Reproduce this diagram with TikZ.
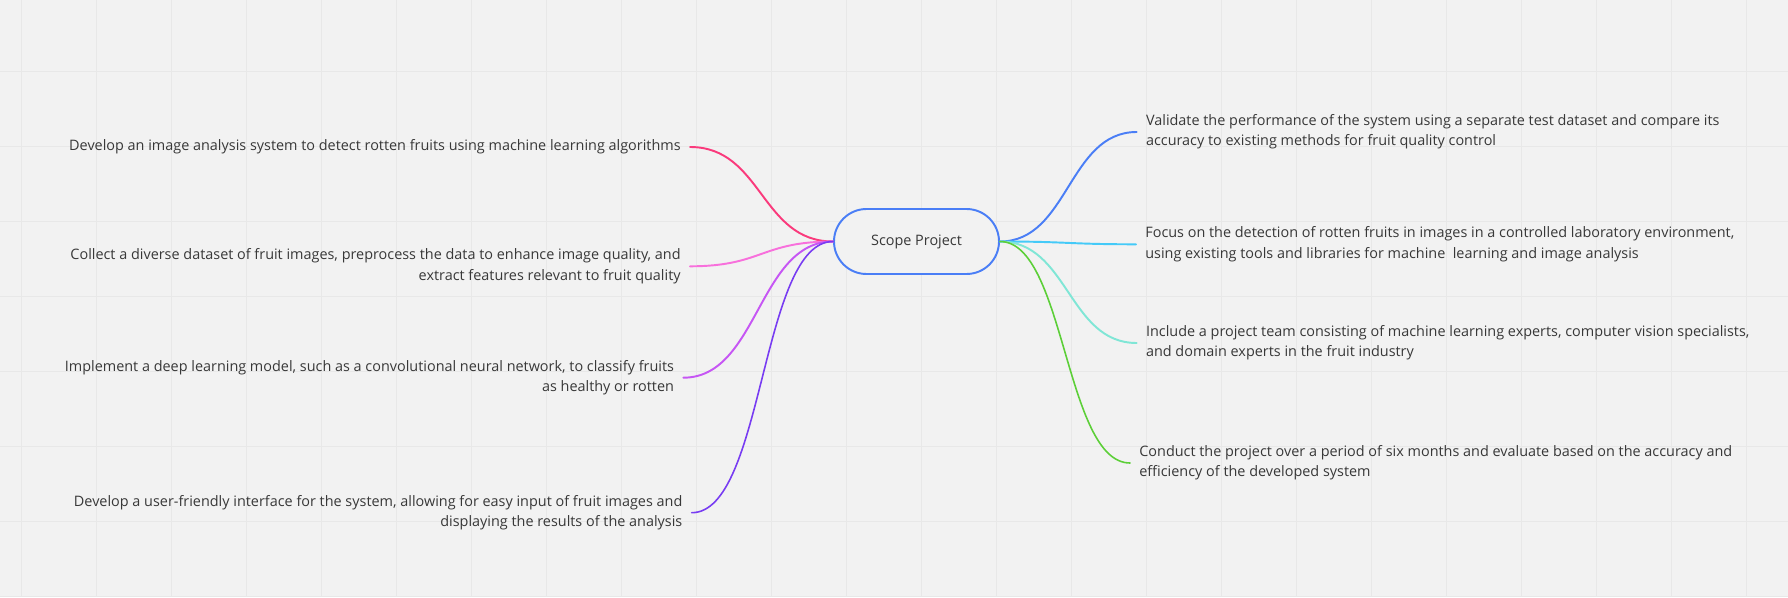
\documentclass[tikz,border=0pt]{standalone}
\usepackage{fontspec}
\setmainfont{Open Sans}
\usepackage{tikz}
\usetikzlibrary{positioning}
\definecolor{bgcol}{HTML}{F2F2F2}
\definecolor{gridcol}{HTML}{E8E8E8}
\definecolor{txtcol}{HTML}{383838}
\definecolor{nodeblue}{HTML}{4A7EF6}
\definecolor{cpink}{HTML}{FA3A7C}
\definecolor{cmagenta}{HTML}{F870DC}
\definecolor{cpurple}{HTML}{C656F4}
\definecolor{cviolet}{HTML}{783CF2}
\definecolor{cblue}{HTML}{4A7EF6}
\definecolor{ccyan}{HTML}{44CAF8}
\definecolor{cteal}{HTML}{80E6D6}
\definecolor{cgreen}{HTML}{5CCF38}
\tikzset{
  branch/.style={line width=1.1pt, line cap=round},
  hubbox/.style={draw=nodeblue, line width=1.1pt, rounded corners=0.65cm, fill=bgcol, minimum width=3.3cm, minimum height=1.3cm, align=center, text=txtcol},
  leftnote/.style={anchor=east, align=right, inner xsep=0.18cm, inner ysep=0pt, text=txtcol, yshift=-0.04cm},
  rightnote/.style={anchor=west, align=left, inner xsep=0.18cm, inner ysep=0pt, text=txtcol, yshift=-0.04cm}
}

\begin{document}
\begin{tikzpicture}[every node/.style={font=\fontsize{8.2}{11.5}\selectfont}]
  % canvas and grid
  \fill[bgcol] (0,0) rectangle (35.76,11.94);
  \useasboundingbox (0,0) rectangle (35.76,11.94);
  \foreach \gx in {0,...,23} \draw[gridcol, line width=0.5pt] (0.43+1.5*\gx,0) -- (0.43+1.5*\gx,11.94);
  \foreach \gy in {0,...,7} \draw[gridcol, line width=0.5pt] (0,10.506-1.5*\gy) -- (35.76,10.506-1.5*\gy);

  \node[hubbox] (scope) at (18.33,7.11) {\raisebox{-0.5pt}{Scope Project}};

  % left branches
  \node[leftnote] (dev) at (13.80,9.04) {Develop an image analysis system to detect rotten fruits using machine learning algorithms};
  \node[leftnote] (data) at (13.80,6.654) {Collect a diverse dataset of fruit images, preprocess the data to enhance image quality, and\\ extract features relevant to fruit quality};
  \node[leftnote] (model) at (13.666,4.426) {Implement a deep learning model, such as a convolutional neural network, to classify fruits\\ as healthy or rotten};
  \node[leftnote] (ui) at (13.834,1.726) {Develop a user-friendly interface for the system, allowing for easy input of fruit images and\\ displaying the results of the analysis};

  % right branches
  \node[rightnote] (valid) at (22.734,9.34) {Validate the performance of the system using a separate test dataset and compare its\\ accuracy to existing methods for fruit quality control};
  \node[rightnote] (focus) at (22.72,7.094) {Focus on the detection of rotten fruits in images in a controlled laboratory environment,\\ using existing tools and libraries for machine\ \ learning and image analysis};
  \node[rightnote] (team) at (22.734,5.12) {Include a project team consisting of machine learning experts, computer vision specialists,\\ and domain experts in the fruit industry};
  \node[rightnote] (plan) at (22.60,2.72) {Conduct the project over a period of six months and evaluate based on the accuracy and\\ efficiency of the developed system};

  \draw[branch, cpink] (scope.west) .. controls +(-1.45,0) and +(1.45,0) .. (dev.east);
  \draw[branch, cmagenta] (scope.west) .. controls +(-1.45,0) and +(1.45,0) .. (data.east);
  \draw[branch, cpurple] (scope.west) .. controls +(-1.5,0) and +(1.5,0) .. (model.east);
  \draw[branch, cviolet, line width=0.9pt] (scope.west) .. controls +(-1.45,0) and +(1.45,0) .. (ui.east);

  \draw[branch, cblue] (scope.east) .. controls +(1.37,0) and +(-1.37,0) .. (valid.west);
  \draw[branch, ccyan] (scope.east) .. controls +(1.37,0) and +(-1.37,0) .. (focus.west);
  \draw[branch, cteal] (scope.east) .. controls +(1.37,0) and +(-1.37,0) .. (team.west);
  \draw[branch, cgreen, line width=0.9pt] (scope.east) .. controls +(1.3,0) and +(-1.3,0) .. (plan.west);
\end{tikzpicture}
\end{document}
